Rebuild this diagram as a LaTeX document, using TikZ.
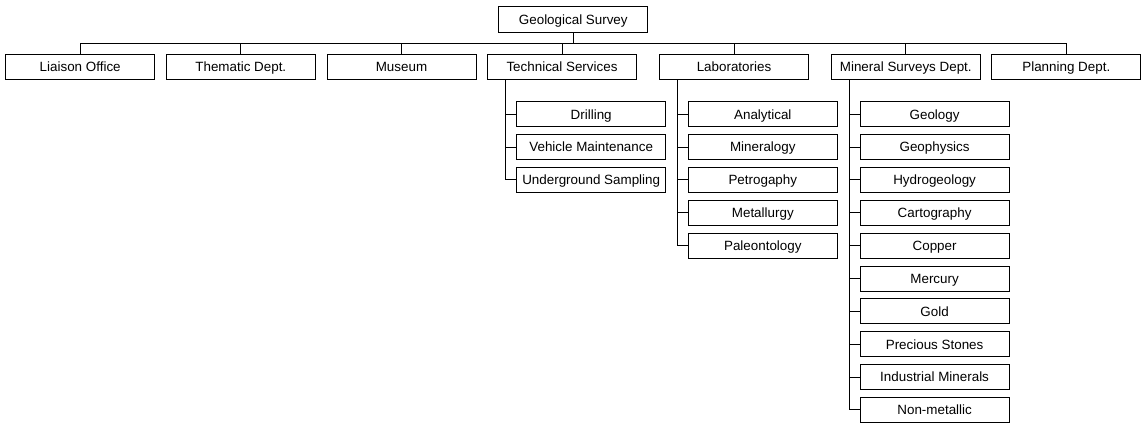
\documentclass[tikz,border=0pt]{standalone}
\usepackage{fontspec}
\setmainfont{Liberation Sans}
\usetikzlibrary{calc}
\begin{document}
\begin{tikzpicture}[x=1pt,y=-1pt,
  box/.style={draw=black,fill=white,line width=0.9pt,minimum width=149pt,minimum height=25pt,inner sep=0pt,text height=12.6pt,text depth=2.8pt,font=\fontsize{13.4}{15}\selectfont},
  link/.style={draw=black,line width=0.9pt}]
\useasboundingbox (0,0) rectangle (1143,423);
\node[box,minimum height=26pt] (root) at (573.3,19.7) {Geological Survey};
\coordinate (bus) at (0,43);
\foreach \n/\x/\t in {lo/80.2/Liaison Office, td/240.8/Thematic Dept., mu/401.5/Museum, ts/562/Technical Services, lab/734/Laboratories, ms/905.8/Mineral Surveys Dept., pd/1066.3/Planning Dept.}{
  \node[box] (\n) at (\x,66.8) {\t};
  \draw[link] (root.south) -- (root.south |- bus) -| (\n.north);
}
% Technical services children
\coordinate (tsv) at ($(ts.south west)+(18.4,0)$);
\foreach \i/\t in {0/Drilling, 1/Vehicle Maintenance, 2/Underground Sampling}{
  \node[box] (ts\i) at (591.2,114.2+32.85*\i) {\t};
  \draw[link] (tsv) |- (ts\i.west);
}
% Laboratories children
\coordinate (labv) at ($(lab.south west)+(18.4,0)$);
\foreach \i/\t in {0/Analytical, 1/Mineralogy, 2/Petrogaphy, 3/Metallurgy, 4/Paleontology}{
  \node[box] (lab\i) at (762.8,114.2+32.85*\i) {\t};
  \draw[link] (labv) |- (lab\i.west);
}
% Mineral surveys children
\coordinate (msv) at ($(ms.south west)+(18.2,0)$);
\foreach \i/\t in {0/Geology, 1/Geophysics, 2/Hydrogeology, 3/Cartography, 4/Copper, 5/Mercury, 6/Gold, 7/Precious Stones, 8/Industrial Minerals, 9/Non-metallic}{
  \node[box] (ms\i) at (934.6,114.2+32.85*\i) {\t};
  \draw[link] (msv) |- (ms\i.west);
}
\end{tikzpicture}
\end{document}
